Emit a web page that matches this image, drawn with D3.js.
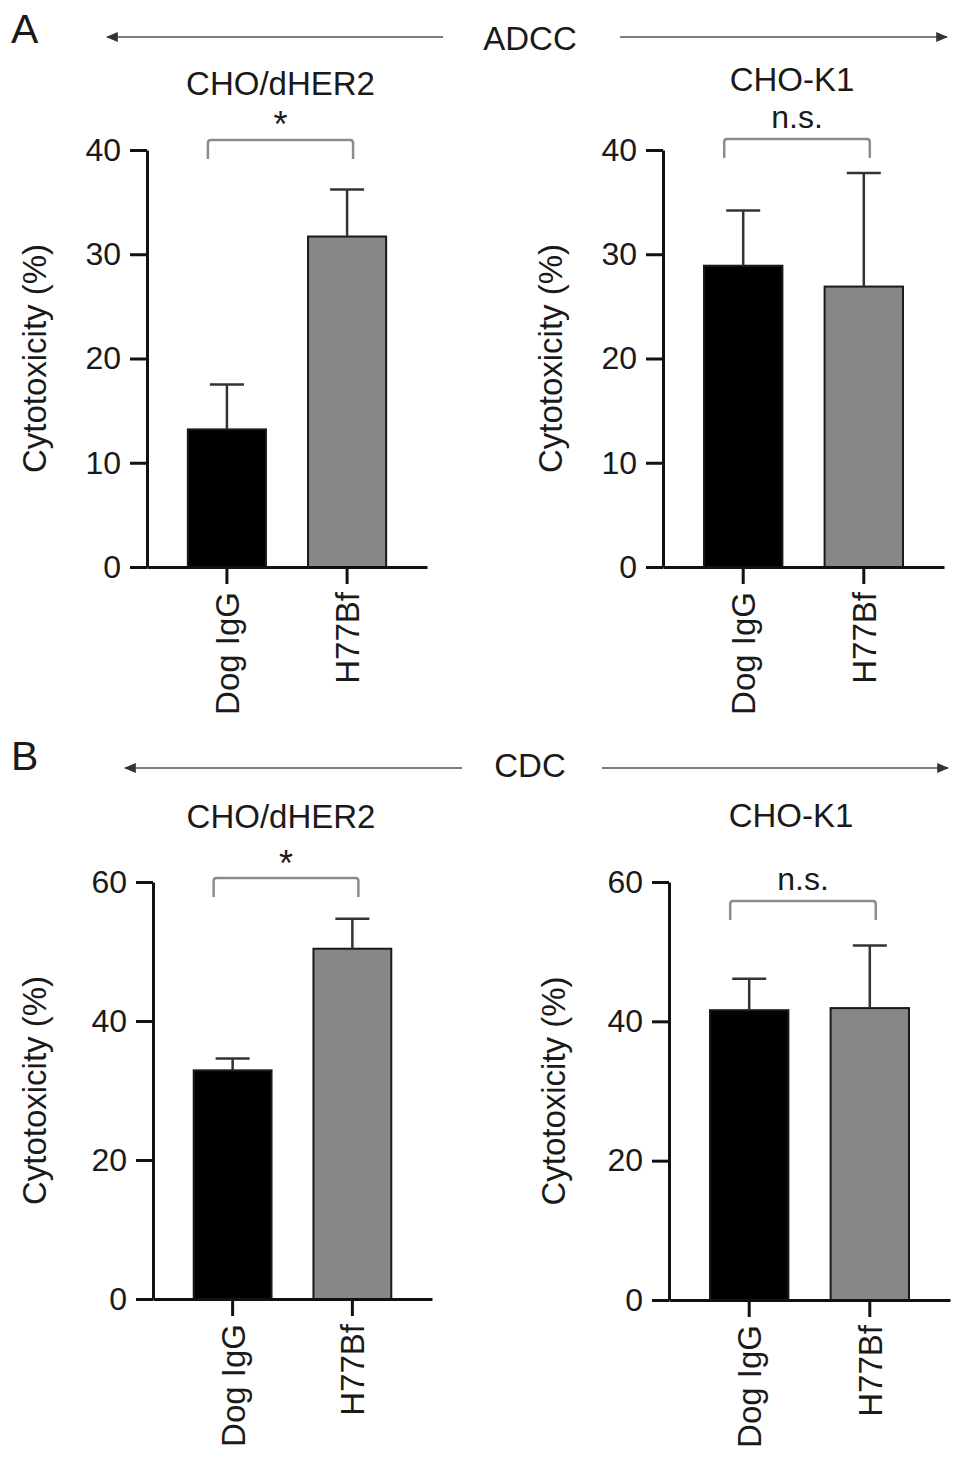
<!DOCTYPE html>
<html lang="en">
<head>
<meta charset="utf-8">
<title>ADCC / CDC cytotoxicity</title>
<script src="https://d3js.org/d3.v7.min.js"></script>
<style>
    body { margin: 0; background: #fff; }
    svg text { font-family: "Liberation Sans", Arial, Helvetica, sans-serif; fill: #1a1a1a; }
</style>
</head>
<body>
<div id="chart"></div>
<script>
"use strict";

// ---- data ----
var categories = ["Dog IgG", "H77Bf"];
var barColors = ["#000000", "#878787"];

var adccHer2Mean = [13.2, 31.7];
var adccHer2Err  = [4.3, 4.5];
var adccK1Mean   = [28.9, 26.9];
var adccK1Err    = [5.3, 10.9];
var cdcHer2Mean  = [32.9, 50.4];
var cdcHer2Err   = [1.7, 4.3];
var cdcK1Mean    = [41.6, 41.9];
var cdcK1Err     = [4.5, 9.0];

var adccTicks = [0, 10, 20, 30, 40];
var cdcTicks  = [0, 20, 40, 60];

var cellLines = ["CHO/dHER2", "CHO-K1"];
var assays = ["ADCC", "CDC"];
var panelLetters = ["A", "B"];
var sigLabels = ["*", "n.s."];
var yLabel = "Cytotoxicity (%)";

// ---- layout ----
var W = 969, H = 1463;
var svg = d3.select("#chart").append("svg")
    .attr("width", W).attr("height", H)
    .attr("viewBox", "0 0 " + W + " " + H);

var defs = svg.append("defs");
defs.append("marker")
    .attr("id", "head")
    .attr("viewBox", "0 0 10 10")
    .attr("refX", 9).attr("refY", 5)
    .attr("markerWidth", 12).attr("markerHeight", 10)
    .attr("markerUnits", "userSpaceOnUse")
    .attr("orient", "auto-start-reverse")
    .attr("preserveAspectRatio", "none")
    .append("path")
    .attr("d", "M0,0 L10,5 L0,10 Z")
    .attr("fill", "#333");

var panels = [
    { mean: adccHer2Mean, err: adccHer2Err, ticks: adccTicks, title: cellLines[0], sig: sigLabels[0],
      x0: 147, x1: 427, y0: 567, yTop: 150, bracketY: 140, labelOff: 101, titleY: 95, sigDy: -3, titleShift: 0 },
    { mean: adccK1Mean, err: adccK1Err, ticks: adccTicks, title: cellLines[1], sig: sigLabels[1],
      x0: 663, x1: 944, y0: 567, yTop: 150, bracketY: 139, labelOff: 101, titleY: 91, sigDy: -11, titleShift: -5 },
    { mean: cdcHer2Mean, err: cdcHer2Err, ticks: cdcTicks, title: cellLines[0], sig: sigLabels[0],
      x0: 153, x1: 432, y0: 1299, yTop: 882, bracketY: 878, labelOff: 107, titleY: 828, sigDy: -2, titleShift: -5 },
    { mean: cdcK1Mean, err: cdcK1Err, ticks: cdcTicks, title: cellLines[1], sig: sigLabels[1],
      x0: 669, x1: 950, y0: 1300, yTop: 882, bracketY: 901, labelOff: 104, titleY: 827, sigDy: -11, titleShift: -12 }
];

panels.forEach(function (p) {
    var g = svg.append("g");

    var x = d3.scaleBand()
        .domain(categories)
        .range([p.x0, p.x1])
        .paddingInner(0.35)
        .paddingOuter(0.34);

    var y = d3.scaleLinear()
        .domain([0, d3.max(p.ticks)])
        .range([p.y0, p.yTop]);

    var rows = categories.map(function (c, i) {
        return { cat: c, mean: p.mean[i], err: p.err[i], color: barColors[i] };
    });

    // bars
    g.selectAll("rect.bar")
        .data(rows)
        .enter()
        .append("rect")
        .attr("class", "bar")
        .attr("x", d => x(d.cat))
        .attr("width", x.bandwidth())
        .attr("y", d => y(d.mean))
        .attr("height", d => y(0) - y(d.mean))
        .attr("fill", d => d.color)
        .attr("stroke", "#1a1a1a")
        .attr("stroke-width", 2);

    // error bars (upper only)
    var cap = 34;
    var eb = g.selectAll("g.err").data(rows).enter().append("g").attr("class", "err")
        .attr("stroke", "#333").attr("stroke-width", 2.5).attr("fill", "none");
    eb.append("line")
        .attr("x1", d => x(d.cat) + x.bandwidth() / 2)
        .attr("x2", d => x(d.cat) + x.bandwidth() / 2)
        .attr("y1", d => y(d.mean))
        .attr("y2", d => y(d.mean + d.err));
    eb.append("line")
        .attr("x1", d => x(d.cat) + x.bandwidth() / 2 - cap / 2)
        .attr("x2", d => x(d.cat) + x.bandwidth() / 2 + cap / 2)
        .attr("y1", d => y(d.mean + d.err))
        .attr("y2", d => y(d.mean + d.err));

    // y axis
    var yAxis = g.append("g")
        .attr("transform", "translate(" + p.x0 + ",0)")
        .call(d3.axisLeft(y).tickValues(p.ticks).tickSize(17).tickSizeOuter(0).tickPadding(9));
    yAxis.select(".domain").attr("stroke", "#111").attr("stroke-width", 3);
    yAxis.selectAll(".tick line").attr("stroke", "#111").attr("stroke-width", 3);
    yAxis.selectAll(".tick text")
        .attr("font-size", 32)
        .attr("font-family", "'Liberation Sans', Arial, sans-serif")
        .attr("fill", "#1a1a1a");

    // x axis
    var xAxis = g.append("g")
        .attr("transform", "translate(0," + p.y0 + ")")
        .call(d3.axisBottom(x).tickSize(17).tickSizeOuter(0).tickPadding(11));
    xAxis.select(".domain").attr("stroke", "#111").attr("stroke-width", 3);
    xAxis.selectAll(".tick line").attr("stroke", "#111").attr("stroke-width", 3);
    xAxis.selectAll(".tick text")
        .attr("font-size", 33)
        .attr("font-family", "'Liberation Sans', Arial, sans-serif")
        .attr("fill", "#1a1a1a")
        .attr("text-anchor", "end")
        .attr("transform", "rotate(-90)")
        .attr("x", -25)
        .attr("y", 0)
        .attr("dy", "0.36em");

    // y label
    g.append("text")
        .attr("transform", "translate(" + (p.x0 - p.labelOff) + "," + ((p.y0 + p.yTop) / 2) + ") rotate(-90)")
        .attr("text-anchor", "middle")
        .attr("font-size", 33)
        .text(yLabel);

    // significance bracket
    var bx0 = x(categories[0]) + x.bandwidth() / 2 - 19;
    var bx1 = x(categories[1]) + x.bandwidth() / 2 + 6;
    var drop = 19;
    g.append("path")
        .attr("d", "M" + bx0 + "," + (p.bracketY + drop) + " V" + (p.bracketY + 3) +
            " Q" + bx0 + "," + p.bracketY + " " + (bx0 + 3) + "," + p.bracketY +
            " H" + (bx1 - 3) +
            " Q" + bx1 + "," + p.bracketY + " " + bx1 + "," + (p.bracketY + 3) +
            " V" + (p.bracketY + drop))
        .attr("fill", "none")
        .attr("stroke", "#8c8c8c")
        .attr("stroke-width", 2.5);

    g.append("text")
        .attr("x", (bx0 + bx1) / 2)
        .attr("y", p.bracketY + p.sigDy)
        .attr("text-anchor", "middle")
        .attr("font-size", p.sig === "*" ? 36 : 32)
        .text(p.sig);

    // panel title
    g.append("text")
        .attr("x", (bx0 + bx1) / 2 + p.titleShift)
        .attr("y", p.titleY)
        .attr("text-anchor", "middle")
        .attr("font-size", 33)
        .text(p.title);
});

// assay headers with arrows
var headers = [
    { letter: panelLetters[0], assay: assays[0], letterY: 43, y: 37, textY: 50, l0: 107, l1: 443, r0: 620, r1: 947 },
    { letter: panelLetters[1], assay: assays[1], letterY: 770, y: 768, textY: 777, l0: 125, l1: 462, r0: 602, r1: 948 }
];

headers.forEach(function (h) {
    svg.append("text")
        .attr("x", 11).attr("y", h.letterY)
        .attr("font-size", 41)
        .text(h.letter);

    svg.append("text")
        .attr("x", 530).attr("y", h.textY)
        .attr("text-anchor", "middle")
        .attr("font-size", 33)
        .text(h.assay);

    svg.append("line")
        .attr("x1", h.l1).attr("x2", h.l0)
        .attr("y1", h.y).attr("y2", h.y)
        .attr("stroke", "#555").attr("stroke-width", 1.6)
        .attr("marker-end", "url(#head)");

    svg.append("line")
        .attr("x1", h.r0).attr("x2", h.r1)
        .attr("y1", h.y).attr("y2", h.y)
        .attr("stroke", "#555").attr("stroke-width", 1.6)
        .attr("marker-end", "url(#head)");
});
</script>
</body>
</html>
